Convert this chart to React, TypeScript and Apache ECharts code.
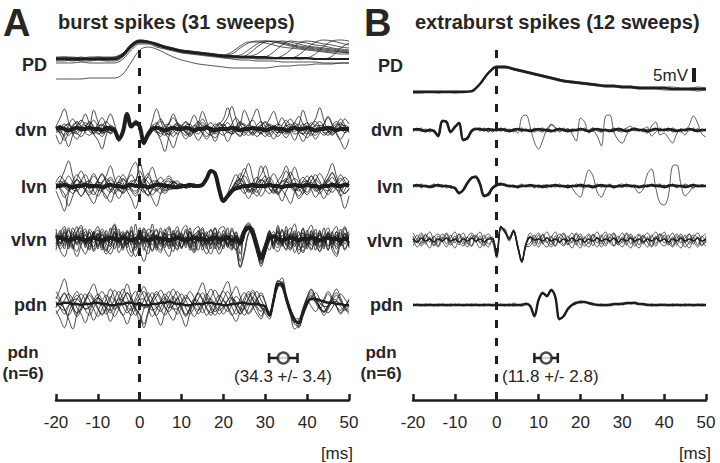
import React, { useEffect, useRef } from 'react';
import * as echarts from 'echarts';

// time bases (ms)
const T = [-20,-19,-18,-17,-16,-15,-14,-13,-12,-11,-10,-9,-8,-7,-6,-5,-4,-3,-2,-1,0,1,2,3,4,5,6,7,8,9,10,11,12,13,14,15,16,17,18,19,20,21,22,23,24,25,26,27,28,29,30,31,32,33,34,35,36,37,38,39,40,41,42,43,44,45,46,47,48,49,50];
const T2 = [-20,-18,-16,-14,-12,-10,-8,-6,-4,-2,0,2,4,6,8,10,12,14,16,18,20,22,24,26,28,30,32,34,36,38,40,42,44,46,48,50];
const xTicks = [-20, -10, 0, 10, 20, 30, 40, 50];

// ---------- Panel A : burst spikes (31 sweeps) ----------
const pdA_core = [1,1,1,1,1,1,1,1,5,14,19,18,16,13,11,9,8,7,6,5, 4,4,3,3,3,3,2,2,2,2,2,1,1,1,1,1];
const pdA_1 = [2,2,1,2,1,2,2,2,6,15,19,18,16,13,11,9,8,7,6,5, 5,8,14,18,18,17,15,13,12,11,10,9,8,7,6,6];
const pdA_2 = [1,1,1,0,1,1,1,1,5,14,19,18,15,13,11,9,8,7,6,5, 4,4,5,10,16,19,18,17,15,13,12,11,10,9,8,7];
const pdA_3 = [3,3,2,3,2,3,3,3,7,16,20,19,16,14,12,10,9,8,7,6, 5,4,4,4,6,12,17,19,18,16,14,13,12,11,10,9];
const pdA_4 = [0,0,-1,0,0,0,0,0,4,13,18,17,15,12,10,8,7,6,5,4, 3,3,2,2,2,3,8,15,19,18,17,15,14,12,11,10];
const pdA_5 = [2,1,1,1,1,2,1,1,5,14,19,18,15,13,11,9,8,7,6,5, 4,3,3,3,2,2,2,4,10,17,19,18,16,15,13,12];
const pdA_6 = [1,2,2,1,2,1,2,2,6,15,19,18,16,13,11,9,8,7,6,5, 4,4,3,3,3,2,2,2,2,5,12,18,20,19,17,15];
const pdA_7 = [-1,-1,0,-1,-1,0,-1,-1,3,12,17,17,14,12,10,8,7,6,5,4, 3,2,2,2,1,1,1,1,1,1,2,6,14,19,20,19];
const pdA_8 = [-3,-3,-3,-2,-3,-3,-3,-3,1,10,16,16,13,11,9,7,6,5,4,3, 2,1,0,0,-1,-1,-1,-2,-2,-2,-2,-2,-3,-3,-3,-3];
const pdA_9 = [-19,-19,-19,-19,-18,-18,-18,-18,-14,-2,10,13,11,7,3,0,-2,-4,-5,-6, -7,-8,-8,-8,-8,-8,-7,-6,-6,-5,-5,-4,-4,-4,-3,-3];
const pdA_10 = [2,3,3,2,3,3,2,3,7,16,20,19,17,14,12,10,9,8,7,6, 5,6,12,17,19,19,18,16,14,12,11,10,9,8,8,7];
const pdA_11 = [0,1,0,1,0,1,0,1,4,13,18,18,15,12,10,8,7,6,5,4, 3,3,3,6,13,18,19,18,16,14,13,12,11,10,9,8];
const pdA_12 = [1,1,1,1,1,1,1,1,5,14,18,18,15,13,11,9,8,7,6,5, 4,3,3,3,2,2,2,2,2,1,1,1,1,4,12,17];

const dvnA_core = [0,1,0,-1,0,1,0,0,1,0, 0,-1,1,0,-1,-8,-2,12,2,5, 2,-11,-4,0,1,0,-1,0,1,0, 0,1,0,-1,0,0,1,0,-1,0, 0,0,1,0,-1,0,0,1,0,0, -1,0,1,0,0,-1,0,1,0,0, 1,0,-1,0,0,1,0,-1,0,0, 0];
const dvnA_1 = [2,9,16,6,-4,-8,-3,2,5,1, -3,-6,-1,3,0,-9,-1,13,3,4, 3,-12,-6,-2,4,8,2,-5,-3,1, 3,-1,-4,0,5,14,6,-4,-7,-2, 2,5,1,-3,-5,0,4,7,2,-3, -6,-2,3,1,-2,-4,0,5,10,4, -2,-5,-1,3,2,-1,-3,1,4,2, 0];
const dvnA_2 = [-3,-1,2,4,1,-3,-6,-2,3,7, 2,-4,-1,2,-2,-10,-3,11,1,6, 2,-10,-3,1,-2,-6,-1,4,9,4, -3,-8,-3,2,6,2,-3,-5,0,4, 8,17,7,-3,-6,-1,3,1,-2,-4, 0,4,2,-1,-3,-1,2,5,1,-4, -7,-2,3,6,2,-2,-1,3,8,3, -3];
const dvnA_3 = [0,-4,-9,-3,3,6,2,-3,-5,-1, 4,9,3,-3,-1,-8,-2,12,3,5, 1,-12,-7,-2,3,6,3,-2,-6,-2, 2,5,2,-4,-9,-4,2,5,1,-3, -5,-1,4,9,4,-2,-5,-2,3,6, 2,-3,-8,-3,3,7,2,-4,-3,2, 5,1,-3,-1,4,9,3,-4,-10,-16, -8];
const dvnA_4 = [1,3,-1,-5,-2,3,7,3,-2,-4, -1,2,6,2,-3,-9,-1,10,2,7, 4,-9,-4,2,5,1,-3,-4,0,3, 1,-2,-5,-1,3,8,3,-2,-4,-1, 3,1,-2,0,4,15,8,-2,-6,-3, 1,3,0,-3,-2,2,4,1,-2,-4, -1,3,6,2,-3,-5,-1,2,5,1, -2];
const dvnA_5 = [-2,1,4,1,-3,-2,2,5,2,-4, -9,-16,-5,2,1,-7,-3,13,4,3, 3,-13,-5,1,-1,-4,0,5,12,5, -2,-5,-2,3,1,-4,-8,-3,2,5, 2,-2,-4,1,6,3,-2,-5,-1,3, 5,1,-3,-6,-2,4,8,3,-2,-4, 1,5,2,-2,-5,-2,3,6,2,-1, 1];
const dvnA_6 = [1,-2,-5,-2,2,5,2,-1,2,15, 6,-3,-2,1,-1,-9,-1,12,2,5, 2,-11,-5,-1,2,-2,-5,-2,2,5, 2,-3,-6,-2,2,5,2,-2,1,4, 1,-3,-2,2,5,2,-1,-4,-2,2, 6,3,-1,-3,0,3,1,-2,3,15, 6,-3,-5,-1,2,-1,-4,-2,3,8, 4];
const dvnA_7 = [-5,-12,-4,3,8,3,-2,1,6,2, -4,-2,5,12,4,-9,-3,11,1,4, 3,-10,-4,6,16,7,-3,-8,-15,-6, 2,6,2,-3,-1,3,1,-4,-10,-3, 4,9,18,8,-2,-5,-1,2,-1,-3, 2,8,14,5,-3,-7,-2,1,-4,-10, -4,3,8,17,7,-2,-5,-1,2,3, 1];
const dvnA_8 = [3,-1,-6,-14,-5,2,5,12,4,-3, 1,4,1,-4,-2,-8,-1,13,2,6, 1,-12,-5,3,-2,-9,-18,-6,2,4, 1,-3,4,11,4,-3,-6,-1,4,2, -3,-10,-4,2,1,-3,2,9,16,6, -3,-6,-2,3,9,3,-3,-9,-2,4, 2,-3,-8,-3,4,10,4,-3,-8,-3, 2];
const dvnA_9 = [1,-3,2,4,-2,-4,1,3,-1,-3, 2,3,-2,-3,1,-7,-2,12,3,5, 2,-11,-5,1,-3,-2,3,4,-1,-4, -1,3,4,-2,-4,1,3,-1,-3,2, 4,-1,-4,-2,3,4,-1,-3,1,3, -2,-4,1,4,2,-3,-3,2,4,-1, -4,0,3,2,-3,-3,1,4,1,-3, -1];

const lvnA_core = [0,0,1,0,-1,0,0,1,0,0, 0,-1,0,1,0,0,-1,0,1,0, 0,0,-1,0,1,1,0,0,-1,-1, 0,0,1,0,0,1,6,12,10,-3, -12,-8,-4,-2,-1,0,0,1,0,0, 0,1,0,0,-1,0,0,1,0,0, 1,0,0,-1,0,0,1,0,0,1, 0];
const lvnA_1 = [3,8,4,-2,-6,-2,4,9,3,-4, -8,-3,3,7,2,-4,-2,5,14,19, 8,-3,-7,-2,4,2,-3,-1,3,1, -1,0,2,0,1,2,7,13,10,-3, -13,-8,-2,4,10,4,-3,-6,-1,4, 8,3,-3,-5,0,5,11,5,-2,-6, -1,4,9,4,-2,-4,0,3,6,2, 0];
const lvnA_2 = [-4,-12,-20,-6,2,5,1,-4,-7,-2, 4,10,4,-3,-6,-1,5,2,-4,-8, -2,5,10,3,-3,-1,2,0,-2,0, 1,-1,0,1,-1,1,5,11,11,-1, -10,-9,-5,0,4,8,3,-4,-8,-3, 3,7,2,-5,-12,-4,2,6,3,-3, -7,-2,4,10,5,-2,-5,-1,4,7, 3];
const lvnA_3 = [1,4,1,-3,0,6,12,5,-3,-7, -2,3,8,16,6,-2,-6,-2,3,5, 1,-4,-8,-3,3,7,2,-3,-2,1, 2,-1,-1,1,0,0,7,13,9,-4, -12,-7,-3,1,7,14,6,-2,-5,0, 5,2,-3,-7,-2,4,8,15,6,-2, -5,0,5,2,-3,-7,-2,3,9,4, -1];
const lvnA_4 = [-2,0,3,8,3,-3,-8,-3,3,8, 4,-3,-8,-13,-5,2,6,2,-3,-6, 0,6,3,-2,-4,-1,3,6,2,-2, -1,1,0,-1,1,0,6,11,10,-2, -11,-9,-5,-1,2,-1,-5,-2,4,9, 16,6,-2,-6,-2,3,1,-3,-8,-3, 3,8,3,-2,1,6,11,4,-3,-6, -2];
const lvnA_5 = [2,-2,-6,-16,-8,0,4,1,-2,0, 5,9,3,-3,-1,4,9,4,-2,-4, -1,3,7,2,-3,-6,-2,2,4,1, 0,0,-1,1,0,1,6,12,11,-2, -12,-8,-3,2,-2,-6,-2,3,7,2, -3,-6,-1,4,9,16,7,-1,-4,0, 4,1,-3,-6,-1,5,10,4,-8,-18, -8];
const lvnA_6 = [0,2,-1,-4,1,5,2,-2,-5,-2, 3,2,-2,-5,-1,3,1,-3,-1,4, 12,5,-3,-7,-3,2,5,8,3,-2, -1,1,0,-1,1,0,7,13,10,-3, -13,-7,-2,3,6,2,-3,-2,2,5, 2,-2,-4,0,3,6,2,-3,-1,4, 8,3,-2,-3,0,3,7,2,-2,1, 2];
const lvnA_7 = [-3,4,12,20,8,-3,-8,-3,4,10, 4,-4,-10,-4,3,8,3,-4,-10,-18, -7,2,8,15,6,-2,-6,-2,3,2, -2,1,2,-1,0,1,5,12,11,-2, -11,-10,-6,-2,3,10,18,7,-3,-8, -3,4,10,4,-3,-8,-14,-5,2,7, 3,-3,-9,-4,3,10,18,8,-2,-6, -2];
const lvnA_8 = [2,-3,-9,-4,4,9,4,-3,-9,-14, -6,2,6,2,-4,-10,-4,4,9,4, 19,8,-3,-10,-16,-6,2,4,1,-2, 1,-2,0,2,-1,0,6,13,9,-4, -13,-6,3,9,4,-4,-10,-4,4,16, 8,-2,-6,-2,5,12,5,-3,-10,-6, 2,8,3,-4,-10,-4,3,-2,-8,-3, 4];
const lvnA_9 = [-1,2,4,1,-3,-4,0,3,4,0, -3,-4,1,5,2,-3,-5,0,4,3, -2,-5,-1,4,4,-1,-4,-2,3,4, 0,-1,1,0,-1,1,6,12,10,-3, -12,-8,-3,3,5,1,-4,-4,1,5, 3,-2,-5,-1,4,4,-1,-4,-2,3, 4,0,-4,-3,2,5,1,-3,-4,1, 3];

const vlvnA_core = [0,1,0,-1,0,1,0,-1,0,1, 0,-1,0,1,0,-1,1,0,-1,0, 1,0,-1,0,1,0,0,-1,0,1, 0,-1,0,1,0,0,-1,0,1,0, 0,1,-1,0,-3,6,9,5,-6,-15, -7,1,2,0,-1,0,1,0,-1,0, 0,1,0,-1,0,1,0,0,-1,0, 0];
const vlvnA_1 = [5,-3,8,-6,2,10,-4,3,-8,4, 7,-2,-9,3,11,-5,2,-7,6,-3, 9,-6,-12,2,7,-4,5,-8,3,10, -2,6,-7,4,-3,8,-5,2,9,-4, 3,-6,7,-2,-18,8,10,4,-8,-16, -6,5,-3,7,-5,3,9,-4,6,-7, 4,-2,8,-6,3,-9,5,10,-3,2, 6];
const vlvnA_2 = [-4,7,-8,3,-2,6,9,-5,2,-10, -3,8,2,-6,5,-11,-4,7,-2,4, -5,8,3,-9,-2,6,-7,4,-3,-8, 5,-3,9,-6,2,-9,4,7,-5,3, -8,5,-4,6,-2,5,11,7,-5,-18, -9,2,6,-5,8,-3,-7,5,-2,9, -6,3,-4,7,-8,4,-2,-6,8,-4, 3];
const vlvnA_3 = [2,-9,-14,-4,6,-3,5,-7,8,3, -6,4,-3,9,-8,2,6,-4,10,-7, 3,-4,8,5,-9,2,-5,9,-6,4, -8,2,-4,7,10,-3,6,-8,3,-5, 7,-4,3,-9,-2,4,8,3,-7,-14, -5,7,-8,3,-2,10,-4,3,-9,-4, 7,-5,2,-3,9,-6,3,-4,5,-8, -2];
const vlvnA_4 = [-6,3,-2,9,-5,-10,3,8,-4,6, 2,-9,7,-4,2,8,-9,3,-5,12, -8,3,-3,-10,4,-6,8,-3,-10,2, 4,-7,3,-2,-9,5,-4,3,-8,6, -3,9,-6,3,-6,7,9,6,-4,-17, -8,3,-6,9,-3,-8,4,-6,3,5, -8,6,-9,3,-4,6,-7,3,-5,9, -4];
const vlvnA_5 = [8,-4,3,-8,9,2,-6,-12,-3,5, -8,6,-4,-6,9,-3,5,-9,-14,-3, 6,-9,4,7,-5,9,-3,-6,7,-6, -3,8,-9,3,6,-5,-12,-4,5,-9, 4,-7,9,-4,-22,-10,5,9,-6,-13, -5,-9,4,-4,7,-5,5,-11,-3,8, -3,-9,5,-7,-2,-9,6,-8,-3,-9, 5];
const vlvnA_6 = [-1,5,-5,2,-7,4,-2,6,-2,-6, 4,-4,-12,-8,-3,4,-5,5,2,-9, 4,-2,-7,4,-4,-9,2,-3,5,-2, -6,-1,6,-9,3,2,-4,8,-2,-7, 2,-4,-5,3,-3,6,8,5,-9,-20, -11,4,-4,-7,3,-5,-9,2,-5,-11, -3,4,-5,5,-6,2,-4,6,-6,2, -7];
const vlvnA_7 = [3,-6,6,-3,4,-4,7,-3,6,-9, 5,-7,4,-2,6,-7,3,-4,7,-4, -3,6,-5,3,8,-3,4,-5,-4,7, 2,-5,6,-4,7,-6,3,-5,9,-2, -6,3,-8,5,-4,8,12,6,-6,-15, -3,6,-2,6,-6,7,-3,7,-6,3, -5,7,-3,6,-2,5,-4,6,-4,5, -5];
const vlvnA_8 = [-9,4,10,-2,-8,5,11,-3,-9,4, 10,-4,-10,5,12,-2,-7,6,-5,-14, -4,9,-3,12,-6,-11,5,10,-4,-9, 6,11,-3,-10,4,9,-6,-12,-2,8, 10,-4,-9,3,-12,9,13,7,-10,-22, -10,6,-5,11,-2,-9,4,12,-3,-10, 5,11,-4,-10,3,9,-5,-12,2,10, -3];
const vlvnA_9 = [4,-8,-3,7,-6,-14,-5,4,-6,6, -6,3,-7,-12,-4,6,-7,-3,-11,-4, -10,-18,-6,4,-7,2,-9,-14,-2,6, -7,2,-6,-11,-3,5,-8,2,-5,-12, -5,3,-5,-9,-23,-12,4,6,-9,-19, -12,2,-7,-10,-2,5,-8,-4,-12,-3, 4,-8,-2,-10,-4,4,-9,-14,-3,4, -6];
const vlvnA_10 = [3,-4,5,-3,4,-5,3,-4,5,-3, 4,-5,3,-4,5,-3,4,-5,3,-4, 5,-3,4,-5,3,-4,5,-3,4,-5, 3,-4,5,-3,4,-5,3,-4,5,-3, 4,-5,3,-4,2,7,10,6,-7,-16, -6,4,-3,5,-4,3,-5,4,-3,5, -4,3,-5,4,-3,5,-4,3,-5,4, -3];

const pdnA_core = [0,0,1,1,0,0,-1,0,0,1, 1,0,0,-1,-1,0,0,1,1,0, 0,-1,-1,0,0,1,1,2,1,0, 0,-1,-1,0,0,0,1,1,0,0, -1,-1,0,0,1,1,0,0,0,-1, -2,-9,3,16,15,4,-6,-13,-15,-7, 1,4,4,3,2,1,1,0,0,-1, -1];
const pdnA_1 = [4,12,20,8,-2,-8,-4,3,9,4, -3,-9,-4,4,11,6,-2,-7,-3,5, 12,6,-3,-10,-5,2,8,4,-3,-8, -3,4,10,5,-2,-7,-2,5,11,5, -2,-6,-1,6,3,-3,-8,-4,3,9, 2,-8,4,18,17,5,-8,-16,-18,-8, 2,7,3,-3,-6,-1,5,9,3,-2, -5];
const pdnA_2 = [-5,-12,-19,-8,2,7,2,-5,-9,-3, 5,10,4,-4,-10,-4,3,9,3,-5, -13,-4,4,9,3,-4,-9,-3,5,10, 4,-3,-8,-3,4,9,3,-4,-9,-3, 4,10,4,-3,-8,-2,5,11,5,-2, -6,-10,2,14,17,7,-4,-11,-19,-10, -1,6,1,-4,2,8,3,-2,-5,-1, 2];
const pdnA_3 = [2,-3,-8,-2,5,10,3,-4,-2,3, 8,3,-5,-14,-6,2,8,16,6,-3, -8,-16,-6,3,8,3,-3,-6,-1,4, 8,3,-4,-10,-5,2,8,3,-3,-8, -4,3,8,14,6,-2,-7,-2,4,7, 1,-10,1,15,21,8,-3,-12,-14,-5, 4,9,4,-2,-6,-3,3,7,2,-4, -6];
const pdnA_4 = [-2,4,9,3,-4,-10,-5,2,7,2, -4,-8,-2,6,3,-4,-9,-3,5,10, 4,-3,-2,4,10,5,-2,-8,-13,-5, 2,7,3,-3,-8,-2,6,12,5,-2, -8,-3,4,2,-4,-9,-3,5,10,3, -3,-7,5,17,14,3,-7,-15,-13,-4, 3,-2,-6,-1,4,10,5,-2,-8,-3, 4];
const pdnA_5 = [6,2,-4,-9,-3,4,8,3,-5,-13, -6,2,7,3,-4,-2,4,9,4,-4, -9,-19,-8,1,6,11,5,-3,-1,5, -3,-10,-4,3,9,4,-3,-7,-2,4, 10,5,-2,-8,-3,5,10,4,-2,-6, -2,-8,2,16,16,5,-6,-14,-16,-8, 0,5,9,4,-2,-7,-3,3,8,4, -1];
const pdnA_6 = [-8,-3,3,8,4,-3,-8,-15,-6,1, 5,2,-3,-7,-2,6,12,5,-3,-9, -4,3,9,4,-3,-6,0,6,12,6, -2,-8,-3,4,2,-3,-9,-4,2,7, 3,-3,-9,-4,4,9,4,-2,-8,-12, -5,-9,4,13,18,6,-5,-12,-16,-9, -1,4,2,-3,-7,-2,4,3,-2,-5, -2];
const pdnA_7 = [10,4,-4,-12,-20,-8,2,8,3,-4, -10,-4,4,12,5,-3,-9,-16,-7,2, 8,14,6,-3,-9,-3,4,10,4,-3, -10,-18,-7,2,8,3,-4,-9,-3,5, 12,18,7,-2,-8,-3,4,9,4,-3, -8,-12,3,19,16,2,-9,-20,-17,-6, 5,11,5,-2,-6,-1,6,12,5,-3, -8];
const pdnA_8 = [-3,3,8,3,-2,-7,-3,4,10,16, 7,-2,-8,-3,4,10,4,-4,-9,-3, 5,10,4,-3,-10,-17,-7,1,6,2, -4,-9,-4,3,10,17,7,-2,-6,-2, 3,-2,-8,-14,-6,2,8,3,-4,-10, -4,-6,6,15,13,4,-4,-11,-12,-3, 6,12,5,-3,-9,-4,3,-2,-7,-2, 3];
const pdnA_9 = [1,-3,-5,-1,3,4,0,-4,-3,2, 5,2,-3,-5,-1,4,3,-2,-5,-1, 4,4,-1,-5,-3,2,5,1,-4,-4, 1,5,3,-2,-5,-1,4,4,-1,-5, -2,3,5,1,-4,-4,1,5,2,-3, -4,-8,3,15,16,5,-5,-13,-15,-7, 1,4,4,1,-2,-2,1,2,0,-2, -1];

// errorbar (pdn onset, n=6)
const pdnA_mean = 34.3;
const pdnA_sd = 3.4;

// ---------- Panel B : extraburst spikes (12 sweeps) ----------
const pdB_core = [0,0,0,0,0,0,0,1,8,19,25,25,23,21,19,17,15,13,11,10, 9,8,7,6,6,5,5,4,4,4,4,3,3,3,3,3];
const pdB_1 = [1,1,1,1,1,1,1,1,9,20,26,26,24,22,20,18,16,14,12,11, 10,9,8,7,7,6,6,5,5,5,5,5,4,4,5,4];
const pdB_2 = [-1,-1,0,-1,0,-1,0,0,7,18,24,24,22,20,18,16,14,12,10,9, 8,7,6,5,5,4,4,3,3,3,2,2,2,2,1,2];

const dvnB_core = [0,1,0,-1,0,-1,-6,9,8,-2, 3,7,-10,-8,-1,1,1,0,1,0, 0,1,0,-1,0,1,0,0,-1,0, 1,0,0,-1,0,1,0,-1,0,0, 1,0,-1,0,1,0,0,-1,0,1, 0,-1,0,1,0,0,-1,0,1,0, 0,1,0,-1,0,0,1,0,-1,0, 0];
const dvnB_1 = [2,-1,2,-2,1,-2,-5,10,7,-1, 2,8,-9,-9,0,2,-1,2,-2,1, -1,2,-1,1,-2,0,2,-1,1,-2, 0,2,-1,-2,1,0,2,-2,1,-1, 2,-1,0,2,-1,-2,1,0,2,-1, -2,1,0,2,-1,1,-2,0,2,-1, 1,-1,2,0,-2,1,-1,2,-1,1, -1];
const dvnB_2 = [-2,1,-1,1,-2,0,-7,8,9,-3, 4,6,-11,-7,-2,1,2,-1,1,-2, 1,-1,2,-2,1,1,-2,1,-1,2, -1,-2,1,0,-2,2,-1,1,-2,0, -1,2,-2,1,1,-2,0,-1,-2,2, 1,-2,1,0,1,-2,1,-1,0,2, -1,2,-2,-1,1,-1,2,-1,1,0, 1];
const dvnB_3 = [0,1,0,-1,0,-1,-6,9,8,-2, 3,7,-10,-8,-1,1,0,1,-1,0, 1,0,-1,0,1,-3,13,15,3,-12, -19,-10,1,5,2,-1,0,1,-4,-11, 12,8,-3,-1,-6,-16,14,15,-2,-10, -13,-5,1,2,0,-1,-3,4,8,-5, -3,-8,-13,-4,1,0,5,14,7,-4, -7];
const dvnB_4 = [1,0,-1,0,1,-2,-7,8,9,-1, 2,8,-9,-9,-2,1,1,0,-1,1, 0,-1,1,0,-1,1,0,-1,0,1, 0,1,-2,6,3,-2,0,1,-1,0, 1,0,-1,2,0,1,-1,0,1,-1, 0,2,4,-1,0,1,3,-6,-2,1, 0,-1,1,0,-1,-5,1,0,1,-1, 0];

const lvnB_core = [0,1,0,0,-1,0,1,0,0,-1, -2,-7,-4,3,8,9,2,-10,-8,-2, 1,2,1,0,0,-1,0,0,1,0, 0,-1,0,0,1,0,0,-1,0,0, 1,0,0,-1,0,1,0,0,-1,0, 0,1,0,0,-1,0,0,1,0,0, -1,0,1,0,0,-1,0,1,0,0, 0];
const lvnB_1 = [1,-1,2,-1,0,2,-1,1,-2,0, -3,-6,-5,2,9,8,1,-11,-7,-1, 2,3,0,1,-1,0,2,-1,1,-2, 1,0,-2,1,0,2,-1,1,-1,2, 0,-2,1,0,2,-1,1,0,-2,1, 2,-1,0,1,-2,1,-1,2,0,-1, 1,-1,2,-2,1,0,-1,2,-1,1, 0];
const lvnB_2 = [-1,1,-2,1,-1,-1,2,-1,1,-2, -1,-8,-3,4,7,10,3,-9,-10,-3, 0,1,2,-1,1,-2,1,0,-1,1, -2,1,1,-1,2,-1,0,-2,1,-1, 2,1,-1,-2,1,0,-1,2,-1,0, -1,2,-1,-1,0,-2,1,0,1,2, -2,1,0,1,-1,2,0,-2,1,-1, 1];
const lvnB_3 = [0,1,0,0,-1,0,1,0,0,-1, -2,-7,-4,3,8,9,2,-10,-8,-2, 1,2,1,0,0,-1,0,1,0,0, 0,-1,0,1,0,0,-1,0,-2,-8, -11,4,16,10,-6,-11,-3,1,0,-1, 0,1,0,0,-1,0,1,0,0,1, 0,1,0,-1,0,1,0,-1,0,1, 0];
const lvnB_4 = [-1,0,1,0,0,1,0,-1,0,0, -3,-8,-4,4,9,10,3,-9,-9,-3, 0,1,1,0,-1,0,0,0,1,-1, 0,0,1,0,-1,0,0,1,0,0, -1,0,1,0,0,-1,0,1,0,0, -1,0,1,-2,-7,-3,12,17,-2,-17, -19,-10,20,21,2,-10,-6,-1,0,1, 0];

const vlvnB_core = [1,-2,2,-1,1,-2,1,-1,2,-1, 1,-2,1,-1,2,-1,1,-2,1,1, -16,13,8,1,9,-6,-21,-4,3,0, 1,-1,2,-1,1,-2,1,-1,2,-1, 1,-2,1,-1,2,-1,1,-1,2,-2, 1,-1,2,-1,1,-2,1,-1,2,-1, 1,-2,1,-1,2,-1,1,-1,2,-1, 1];
const vlvnB_1 = [4,-3,5,-4,3,-5,4,-2,6,-3, 4,-5,3,-4,5,-2,4,-5,3,1, -16,13,8,1,9,-6,-21,-4,4,-3, 5,-4,3,-5,4,-3,6,-4,3,-5, 4,-3,5,-6,3,-4,5,-3,6,-4, 3,-5,4,-3,5,-4,3,-6,4,-2, 5,-4,3,-5,4,-3,6,-4,3,-5, 4];
const vlvnB_2 = [-3,5,-4,6,-2,4,-6,3,-4,5, -3,6,-4,3,-6,4,-3,5,-4,-1, -17,14,9,2,10,-5,-22,-6,-3,5, -4,6,-3,4,-6,3,-5,4,-3,6, -5,3,-4,6,-3,5,-4,3,-6,4, -3,6,-4,3,-5,4,-2,5,-4,6, -3,5,-6,4,-3,5,-4,3,-5,4, -3];
const vlvnB_3 = [7,0,-6,2,8,-1,-7,1,7,-2, -8,2,7,-3,-6,3,8,-2,-7,2, -14,12,11,0,8,-7,-20,-3,7,0, -7,2,8,-1,-6,3,7,-2,-8,1, 6,-3,-7,2,8,-1,-6,3,7,-2, -7,1,6,-3,-8,2,7,-1,-6,3, 8,-2,-7,1,6,-3,-8,2,7,-1, -6];
const vlvnB_4 = [-6,1,7,-2,-8,3,6,-1,-7,2, 8,-2,-6,3,7,-1,-8,2,6,-2, -18,11,7,-1,8,-8,-23,-7,-6,2, 7,-3,-7,2,8,-2,-6,1,7,-3, -8,2,6,-1,-7,3,8,-2,-6,1, 7,-3,-8,2,6,-1,-7,3,8,-2, -6,1,7,-3,-8,2,6,-1,-7,3, 6];
const vlvnB_5 = [2,-7,-2,5,1,-6,-1,6,2,-5, 0,6,-1,-7,2,5,-2,-6,1,3, -15,14,9,3,10,-5,-20,-5,2,-6, 1,5,-2,-7,0,6,2,-5,-1,7, 1,-6,-2,5,2,-7,0,6,1,-5, -1,7,2,-6,0,5,-2,-7,1,6, 2,-5,-1,6,1,-7,-2,5,2,-6, 0];

const pdnB_core = [0,0,0,0,0,0,0,0,0,0, 0,0,0,0,0,0,0,0,0,0, 0,0,0,0,0,0,0,1,-1,-11, 5,12,9,15,8,-14,-11,-4,0,2, 3,3,2,1,0,0,0,0,1,1, 1,2,2,2,1,1,0,0,0,0, 0,0,0,0,0,0,0,0,0,0, 0];
const pdnB_1 = [1,0,-1,1,0,-1,1,0,-1,1, 0,1,-1,0,1,0,-1,1,0,-1, 1,0,-1,1,-1,0,1,2,0,-10, 4,13,10,14,9,-13,-12,-5,0,2, 4,3,1,0,1,-1,0,1,0,1, 2,1,2,3,1,0,1,-1,0,1, 0,-1,1,0,-1,1,0,-1,0,1, 0];
const pdnB_2 = [-1,1,0,-1,1,0,-1,1,0,-1, 1,0,0,1,-1,1,0,-1,1,0, -1,1,0,-1,2,0,-1,1,-1,-12, 6,11,8,16,7,-15,-10,-3,1,3, 2,3,2,1,0,1,-1,0,1,0, 1,2,1,2,1,1,0,1,-1,0, 1,0,-1,1,0,-1,1,0,1,-1, 1];

const pdnB_mean = 11.8;
const pdnB_sd = 2.8;

const FONT = '"Liberation Sans", Arial, Helvetica, sans-serif';
const INK = '#1e1e1e';
const TXT = '#262626';

type Row = { label: string; center: number; labelY: number; amp: number; t: number[]; core: number[]; coreW: number; sweeps: number[][]; thinW: number };
type Panel = { letter: string; title: string; left: number; labelX: number; letterX: number; titleX: number; nLabelX: number; dashTop: number; rows: Row[]; mean: number; sd: number; msX: number; statX: number; statAlign: string; scale?: boolean };

const panels: Panel[] = [
  {
    letter: 'A', title: 'burst spikes (31 sweeps)', left: 56, labelX: 47, letterX: 3, titleX: 58, nLabelX: 23, dashTop: 40,
    mean: pdnA_mean, sd: pdnA_sd, msX: 353, statX: 283, statAlign: 'center',
    rows: [
      { label: 'PD', center: 60, labelY: 65, amp: 30, t: T2, core: pdA_core, coreW: 2.2, thinW: 0.8,
        sweeps: [pdA_1, pdA_2, pdA_3, pdA_4, pdA_5, pdA_6, pdA_7, pdA_8, pdA_9, pdA_10, pdA_11, pdA_12] },
      { label: 'dvn', center: 129, labelY: 130, amp: 24, t: T, core: dvnA_core, coreW: 4, thinW: 0.85,
        sweeps: [dvnA_1, dvnA_2, dvnA_3, dvnA_4, dvnA_5, dvnA_6, dvnA_7, dvnA_8, dvnA_9] },
      { label: 'lvn', center: 186, labelY: 187, amp: 24, t: T, core: lvnA_core, coreW: 4, thinW: 0.85,
        sweeps: [lvnA_1, lvnA_2, lvnA_3, lvnA_4, lvnA_5, lvnA_6, lvnA_7, lvnA_8, lvnA_9] },
      { label: 'vlvn', center: 239, labelY: 240, amp: 24, t: T, core: vlvnA_core, coreW: 4.5, thinW: 0.85,
        sweeps: [vlvnA_1, vlvnA_2, vlvnA_3, vlvnA_4, vlvnA_5, vlvnA_6, vlvnA_7, vlvnA_8, vlvnA_9, vlvnA_10] },
      { label: 'pdn', center: 304, labelY: 305, amp: 24, t: T, core: pdnA_core, coreW: 2.5, thinW: 0.85,
        sweeps: [pdnA_1, pdnA_2, pdnA_3, pdnA_4, pdnA_5, pdnA_6, pdnA_7, pdnA_8, pdnA_9] },
    ],
  },
  {
    letter: 'B', title: 'extraburst spikes (12 sweeps)', left: 413, labelX: 403, letterX: 364, titleX: 415, nLabelX: 381, dashTop: 45,
    mean: pdnB_mean, sd: pdnB_sd, msX: 711, statX: 502, statAlign: 'left', scale: true,
    rows: [
      { label: 'PD', center: 92, labelY: 66, amp: 30, t: T2, core: pdB_core, coreW: 2.4, thinW: 0.8, sweeps: [pdB_1, pdB_2] },
      { label: 'dvn', center: 130, labelY: 130, amp: 30, t: T, core: dvnB_core, coreW: 2.6, thinW: 0.75, sweeps: [dvnB_1, dvnB_2, dvnB_3, dvnB_4] },
      { label: 'lvn', center: 186, labelY: 187, amp: 30, t: T, core: lvnB_core, coreW: 2.6, thinW: 0.75, sweeps: [lvnB_1, lvnB_2, lvnB_3, lvnB_4] },
      { label: 'vlvn', center: 240, labelY: 241, amp: 30, t: T, core: vlvnB_core, coreW: 1.6, thinW: 0.75, sweeps: [vlvnB_1, vlvnB_2, vlvnB_3, vlvnB_4, vlvnB_5] },
      { label: 'pdn', center: 305, labelY: 305, amp: 30, t: T, core: pdnB_core, coreW: 2.4, thinW: 0.8, sweeps: [pdnB_1, pdnB_2] },
    ],
  },
];

function buildOption() {
  const grid: any[] = [];
  const xAxis: any[] = [];
  const yAxis: any[] = [];
  const series: any[] = [];
  const graphic: any[] = [];
  const W = 293;

  const addGrid = (left: number, top: number, height: number, yMin: number, yMax: number, showX: boolean) => {
    const idx = grid.length;
    grid.push({ left, top, width: W, height, containLabel: false });
    xAxis.push({
      gridIndex: idx, type: 'value', min: xTicks[0], max: xTicks[xTicks.length - 1], interval: 10,
      show: showX,
      axisLine: { show: showX, onZero: false, lineStyle: { color: INK, width: 2.5 } },
      axisTick: { show: showX, inside: true, length: 6, lineStyle: { color: INK, width: 2.5 } },
      axisLabel: { show: showX, color: TXT, fontSize: 17, fontFamily: FONT, margin: 14 },
      splitLine: { show: false },
    });
    yAxis.push({ gridIndex: idx, type: 'value', min: yMin, max: yMax, show: false, splitLine: { show: false } });
    return idx;
  };

  const txt = (x: number, y: number, text: string, font: string, align: string, extra: any = {}) => ({
    type: 'text', x, y,
    style: { text, font, fill: TXT, align, verticalAlign: 'middle', textAlign: align, textVerticalAlign: 'middle', ...extra },
  });

  panels.forEach((p) => {
    // axis + dashed zero line
    const ax = addGrid(p.left, p.dashTop, 400 - p.dashTop, 0, 1, true);
    series.push({
      type: 'line', xAxisIndex: ax, yAxisIndex: ax, data: [], silent: true, z: 1,
      markLine: {
        silent: true, symbol: 'none', label: { show: false },
        lineStyle: { type: [8, 10], width: 3, color: INK },
        data: [{ xAxis: 0 }],
      },
    });

    p.rows.forEach((r) => {
      const g = addGrid(p.left, r.center - 30, 60, -r.amp, r.amp, false);
      r.sweeps.forEach((s) => {
        series.push({
          type: 'line', xAxisIndex: g, yAxisIndex: g, silent: true, symbol: 'none', showSymbol: false,
          smooth: 0.35, z: 2,
          lineStyle: { color: INK, width: r.thinW, opacity: 0.95 },
          data: r.t.map((t, i) => [t, s[i]]),
        });
      });
      series.push({
        type: 'line', xAxisIndex: g, yAxisIndex: g, silent: true, symbol: 'none', showSymbol: false,
        smooth: 0.35, z: 3,
        lineStyle: { color: INK, width: r.coreW },
        data: r.t.map((t, i) => [t, r.core[i]]),
      });
      graphic.push(txt(p.labelX, r.labelY, r.label, `bold 18px ${FONT}`, 'right'));
    });

    // error bar row
    const eg = addGrid(p.left, 347, 22, -11, 11, false);
    series.push({
      type: 'line', xAxisIndex: eg, yAxisIndex: eg, silent: true, z: 4,
      symbol: 'rect', symbolSize: [2.5, 10], showSymbol: true,
      lineStyle: { color: INK, width: 2.5 }, itemStyle: { color: INK },
      data: [[p.mean - p.sd, 0], [p.mean + p.sd, 0]],
    });
    series.push({
      type: 'scatter', xAxisIndex: eg, yAxisIndex: eg, silent: true, z: 5,
      symbol: 'circle', symbolSize: 11,
      itemStyle: { color: '#ffffff', borderColor: INK, borderWidth: 2.5 },
      data: [[p.mean, 0]],
    });
    graphic.push(txt(p.statX, 376, `(${p.mean} +/- ${p.sd})`, `17px ${FONT}`, p.statAlign));
    // pdn (n=6) label
    graphic.push(txt(p.nLabelX, 352, 'pdn', `bold 17px ${FONT}`, 'center'));
    graphic.push(txt(p.nLabelX, 373, '(n=6)', `bold 17px ${FONT}`, 'center'));
    // [ms]
    graphic.push(txt(p.msX, 453, '[ms]', `17px ${FONT}`, 'right'));
    // panel letter + title
    graphic.push(txt(p.letterX, 23, p.letter, `bold 38px ${FONT}`, 'left'));
    graphic.push(txt(p.titleX, 22, p.title, `bold 20px ${FONT}`, 'left'));
    if (p.scale) {
      graphic.push(txt(688, 75, '5mV', `17px ${FONT}`, 'right'));
      graphic.push({ type: 'rect', shape: { x: 692, y: 68, width: 4, height: 14 }, style: { fill: INK } });
    }
  });

  return {
    animation: false,
    backgroundColor: '#ffffff',
    grid, xAxis, yAxis, series, graphic,
  };
}

export default function App() {
  const ref = useRef<HTMLDivElement | null>(null);
  useEffect(() => {
    if (!ref.current) return;
    const chart = echarts.init(ref.current, undefined, { renderer: 'svg' });
    chart.setOption(buildOption() as any);
    return () => chart.dispose();
  }, []);
  return <div ref={ref} style={{ position: 'fixed', left: 0, top: 0, width: 720, height: 463, background: '#fff' }} />;
}
